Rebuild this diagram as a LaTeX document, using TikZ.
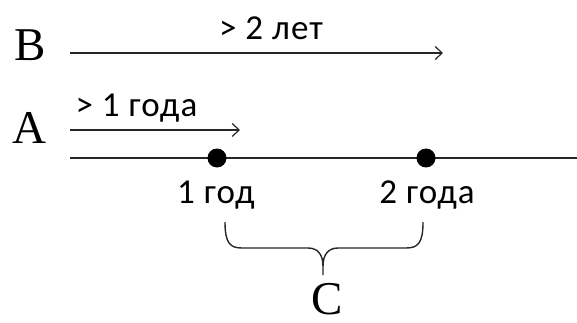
\documentclass[tikz,border=0pt]{standalone}
\usepackage{fontspec}
\setmainfont{Liberation Serif}
\newfontfamily\calibri[LetterSpace=3]{Carlito}
\usetikzlibrary{arrows.meta}

\tikzset{
  letter/.style={font=\fontsize{47}{47}\selectfont, anchor=base, inner sep=0pt},
  period/.style={font=\calibri\fontsize{35}{35}\selectfont, anchor=base},
  timeline/.style={line width=1.4pt, black!85},
  span/.style={line width=1.4pt, black!85, -{Straight Barb[length=7pt, width=13pt, line width=1.2pt]}},
  dot/.style={circle, fill=black, inner sep=0pt, minimum size=19pt}
}

\begin{document}
\begin{tikzpicture}[x=1pt, y=-1pt]
\useasboundingbox (0,0) rectangle (577,323);

\node[letter] (B) at (30,61) {B};
\coordinate (bstart) at (70,53);
\coordinate (bend) at (443,53);
\draw[span] (bstart) -- (bend);
\node[period] (twoyears) at (271,40) {> 2 лет};

\node[letter] (A) at (29,143) {A};
\coordinate (astart) at (70,130);
\coordinate (aend) at (240,130);
\draw[span] (astart) -- (aend);
\node[period, anchor=base west] (oneyear) at (72,117) {> 1 года};

\coordinate (lstart) at (70,158);
\coordinate (lend) at (577,158);
\draw[timeline] (lstart) -- (lend);
\node[dot] (year1) at (217,158) {};
\node[dot] (year2) at (426,158) {};

\node[period] (label1) at (216,203) {1 год};
\node[period] (label2) at (427,203) {2 года};

% brace under the two years
\draw[timeline] (225,222) .. controls (225,243) and (230,248) .. (242,248) -- (308,248)
  .. controls (318,248) and (323,255) .. (323,266) -- (323,275);
\draw[timeline] (423,222) .. controls (423,243) and (418,248) .. (406,248) -- (338,248)
  .. controls (328,248) and (323,255) .. (323,266);

\node[letter] (C) at (327,314) {C};

\end{tikzpicture}
\end{document}
